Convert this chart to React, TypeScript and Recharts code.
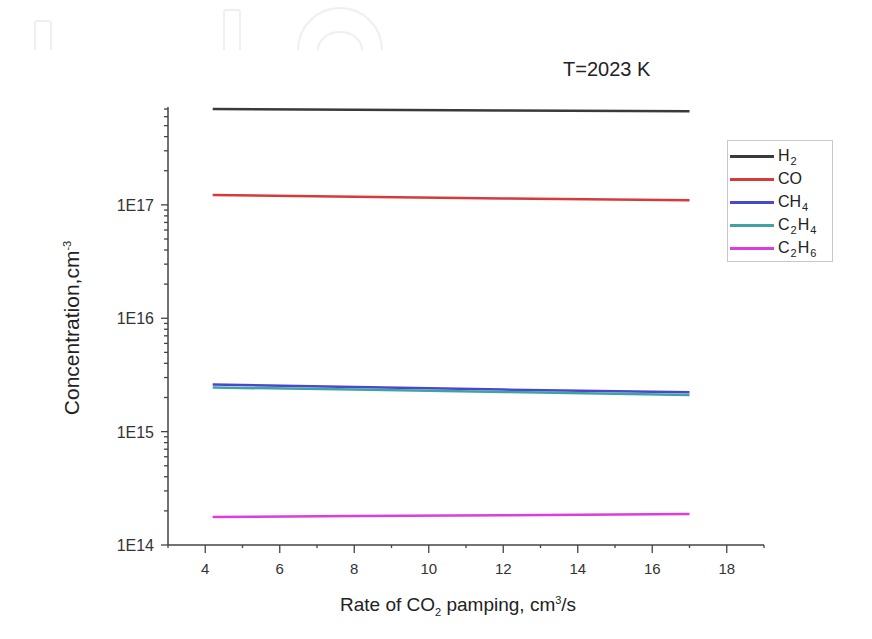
import { LineChart, Line, XAxis, YAxis } from 'recharts'

const rates = [4.2, 8, 12, 17]
const h2 = [7.0e17, 6.9e17, 6.8e17, 6.7e17]
const co = [1.22e17, 1.18e17, 1.14e17, 1.1e17]
const ch4 = [2.6e15, 2.47e15, 2.35e15, 2.22e15]
const c2h4 = [2.45e15, 2.35e15, 2.24e15, 2.1e15]
const c2h6 = [1.77e14, 1.8e14, 1.83e14, 1.88e14]

const xTicks = [3, 4, 5, 6, 7, 8, 9, 10, 11, 12, 13, 14, 15, 16, 17, 18, 19]
const xLabelled = [4, 6, 8, 10, 12, 14, 16, 18]
const decades = [1e14, 1e15, 1e16, 1e17]
const decadeLabels = ['1E14', '1E15', '1E16', '1E17']
const minorSteps = [2, 3, 4, 5, 6, 7, 8, 9]
const yTop = 7.3e17

const yTicks = decades.flatMap(d => [d, ...minorSteps.map(m => d * m)]).filter(v => v <= yTop)

const series = [
  { key: 'h2', name: ['H', '2', ''], color: '#3a3a3a' },
  { key: 'co', name: ['CO', '', ''], color: '#d83a3a' },
  { key: 'ch4', name: ['CH', '4', ''], color: '#4a46d0' },
  { key: 'c2h4', name: ['C', '2', 'H', '4'], color: '#3fa3a3' },
  { key: 'c2h6', name: ['C', '2', 'H', '6'], color: '#dd3ddd' },
]

const data = rates.map((r, i) => ({
  rate: r,
  h2: h2[i],
  co: co[i],
  ch4: ch4[i],
  c2h4: c2h4[i],
  c2h6: c2h6[i],
}))

const FONT = '"Liberation Sans", Arial, sans-serif'
const AXIS = '#444'

function YTick(props: any) {
  const { x, y, payload } = props
  const i = decades.indexOf(payload.value)
  const major = i >= 0
  return (
    <g>
      <line x1={x} x2={x - (major ? 7 : 4)} y1={y} y2={y} stroke={AXIS} strokeWidth={1.3} />
      {major && (
        <text x={x - 14} y={y} dy={6} textAnchor="end" fontSize={16} fill="#333" fontFamily={FONT}>
          {decadeLabels[i]}
        </text>
      )}
    </g>
  )
}

function XTick(props: any) {
  const { x, y, payload } = props
  const major = xLabelled.includes(payload.value)
  return (
    <g>
      <line x1={x} x2={x} y1={y} y2={y + (major ? 8 : 3)} stroke={AXIS} strokeWidth={1.3} />
      {major && (
        <text x={x} y={y + 29} textAnchor="middle" fontSize={15} fill="#333" fontFamily={FONT}>
          {payload.value}
        </text>
      )}
    </g>
  )
}

function Name({ parts }: { parts: string[] }) {
  return (
    <span>
      {parts.map((p, i) =>
        i % 2 === 1 ? (
          <span key={i} style={{ fontSize: 11, position: 'relative', top: 4, margin: '0 1px' }}>{p}</span>
        ) : (
          <span key={i}>{p}</span>
        )
      )}
    </span>
  )
}

export default function App() {
  return (
    <div style={{ position: 'absolute', left: 0, top: 0, width: 872, height: 639, background: '#fff', fontFamily: FONT }}>
      <svg width={872} height={60} style={{ position: 'absolute', left: 0, top: 0 }}>
        <g fill="none" stroke="#efefef" strokeWidth={2}>
          <path d="M35 50 V23 Q35 21 37 21 H49 Q51 21 51 23 V50" />
          <path d="M224 50 V12 Q224 10 226 10 H238 Q240 10 240 12 V50" />
          <path d="M298 50 A42 42 0 0 1 382 50" />
          <path d="M318 50 A22 18 0 0 1 362 50" />
        </g>
      </svg>
      <LineChart
        width={872}
        height={639}
        data={data}
        margin={{ top: 107, right: 108, left: 108, bottom: 64 }}
      >
        <XAxis
          dataKey="rate"
          type="number"
          domain={[3, 19]}
          ticks={xTicks}
          interval={0}
          tick={<XTick />}
          tickLine={false}
          tickSize={0}
          tickMargin={0}
          height={30}
          stroke={AXIS}
          strokeWidth={1.5}
        />
        <YAxis
          scale="log"
          type="number"
          domain={[1e14, yTop]}
          ticks={yTicks}
          interval={0}
          allowDataOverflow
          tick={<YTick />}
          tickLine={false}
          tickSize={0}
          tickMargin={0}
          width={60}
          stroke={AXIS}
          strokeWidth={1.5}
        />
        {series.map(s => (
          <Line
            key={s.key}
            type="linear"
            dataKey={s.key}
            stroke={s.color}
            strokeWidth={2.5}
            dot={false}
            isAnimationActive={false}
          />
        ))}
      </LineChart>

      <div style={{ position: 'absolute', left: 563, top: 58, fontSize: 20, color: '#222' }}>T=2023 K</div>

      <div
        style={{
          position: 'absolute',
          left: 72,
          top: 328,
          transform: 'translate(-50%, -50%) rotate(-90deg)',
          whiteSpace: 'nowrap',
          fontSize: 21,
          color: '#222',
        }}
      >
        Concentration,cm<sup style={{ fontSize: 11 }}>-3</sup>
      </div>

      <div style={{ position: 'absolute', left: 340, top: 594, fontSize: 19, color: '#222', whiteSpace: 'nowrap' }}>
        Rate of CO<sub style={{ fontSize: 11 }}>2</sub> pamping, cm<sup style={{ fontSize: 11 }}>3</sup>/s
      </div>

      <div
        style={{
          position: 'absolute',
          left: 727,
          top: 140,
          width: 104,
          height: 120,
          border: '1px solid #c8c8c8',
        }}
      >
        {series.map((s, i) => (
          <div key={s.key} style={{ position: 'absolute', left: 2, top: 5 + i * 23, height: 20, display: 'flex', alignItems: 'center' }}>
            <div style={{ width: 44, height: 3, background: s.color }} />
            <div style={{ marginLeft: 4, fontSize: 16, color: '#222', lineHeight: '20px', whiteSpace: 'nowrap' }}>
              <Name parts={s.name} />
            </div>
          </div>
        ))}
      </div>
    </div>
  )
}
